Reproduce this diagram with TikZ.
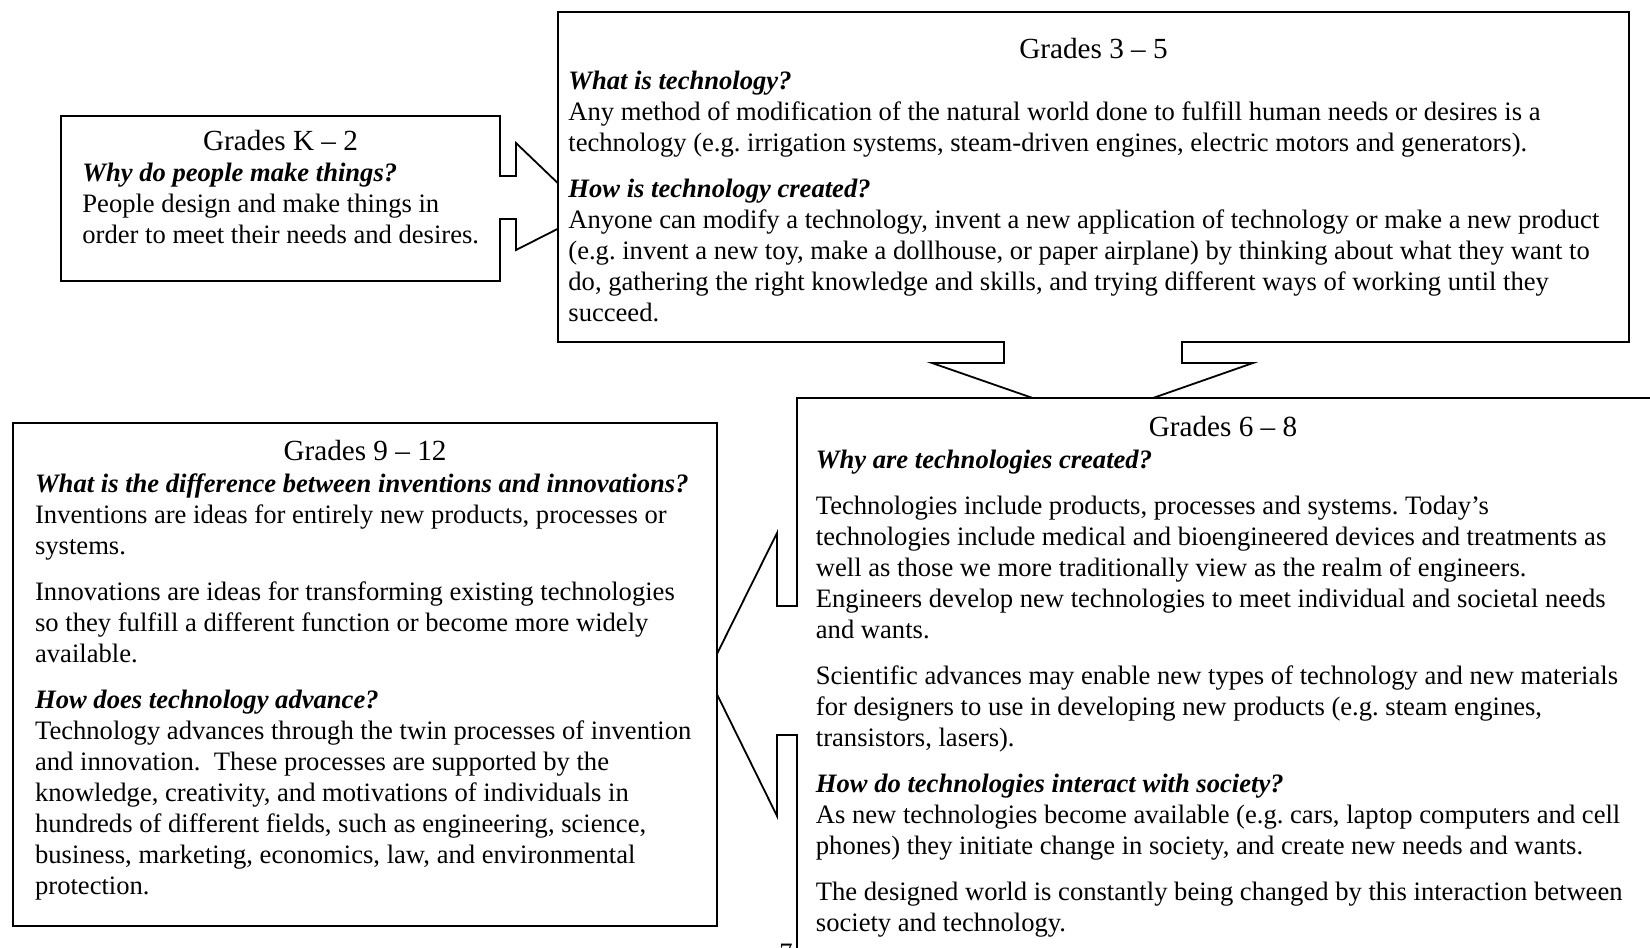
\documentclass[tikz,border=0pt]{standalone}
\usepackage{fontspec}
\setmainfont{Liberation Serif}
\usetikzlibrary{calc}

\newcommand{\qn}[1]{\textbf{\textit{#1}}}

\tikzset{
  box/.style={draw, fill=white, line width=0.9pt, inner sep=0pt, outer sep=0pt, anchor=north west},
  head/.style={font=\fontsize{14.6pt}{15.5pt}\selectfont, inner sep=0pt, anchor=north},
  body/.style={font=\fontsize{13.3pt}{15.5pt}\selectfont\frenchspacing, align=left, inner sep=0pt, anchor=north west},
  callout/.style={draw, line width=0.9pt, line join=miter},
  gap/.style={fill=white}
}

\begin{document}
\begin{tikzpicture}[x=0.5pt, y=-0.5pt]
\useasboundingbox (0,0) rectangle (1650,948);
\clip (0,0) rectangle (1650,948);

% Grades K-2, arrow to the right
\node[box, minimum width=219.5pt, minimum height=82.5pt] (gk2) at (61,116) {};
\fill[gap] ($(gk2.north east)+(-3,61)$) rectangle ($(gk2.north east)+(14,102)$);
\draw[callout] ($(gk2.north east)+(0,60)$) -- ++(16,0) -- ++(0,-33) -- ++(73,70)
  -- ++(-73,37) -- ++(0,-31) -- ++(-16,0);
\node[head] (gk2h) at (280.5,128) {\strut Grades K – 2};
\node[body] (gk2t) at (82,159) {\strut\qn{Why do people make things?}\\
  People design and make things in\\
  order to meet their needs and desires.};

% Grades 3-5, arrow down
\node[box, minimum width=535.5pt, minimum height=165pt] (g35) at (558,12) {};
\fill[gap] ($(g35.south west)+(447,-3)$) rectangle ($(g35.south west)+(623,3)$);
\draw[callout] ($(g35.south west)+(446,0)$) -- ++(0,21) -- ++(-72,0) -- ++(161,56)
  -- ++(160,-56) -- ++(-71,0) -- ++(0,-21);
\node[head] (g35h) at (1093.5,36.4) {\strut Grades 3 – 5};
\node[body] (g35t) at (568,66.9) {\strut\qn{What is technology?}\\
  Any method of modification of the natural world done to fulfill human needs or desires is a\\
  technology (e.g. irrigation systems, steam-driven engines, electric motors and generators).\\[7.5pt]
  \qn{How is technology created?}\\
  Anyone can modify a technology, invent a new application of technology or make a new product\\
  (e.g. invent a new toy, make a dollhouse, or paper airplane) by thinking about what they want to\\
  do, gathering the right knowledge and skills, and trying different ways of working until they\\
  succeed.};

% Grades 6-8, arrow to the left
\node[box, minimum width=432.5pt, minimum height=296pt] (g68) at (797,398) {};
\fill[gap] ($(g68.north west)+(-3,209)$) rectangle ($(g68.north west)+(3,336)$);
\draw[callout] ($(g68.north west)+(0,208)$) -- ++(-20,0) -- ++(0,-73) -- ++(-70,141)
  -- ++(70,142) -- ++(0,-81) -- ++(20,0);
\node[head] (g68h) at (1223,414.2) {\strut Grades 6 – 8};
\node[body] (g68t) at (815.5,446.8) {\strut\qn{Why are technologies created?}\\[7.5pt]
  Technologies include products, processes and systems. Today’s\\
  technologies include medical and bioengineered devices and treatments as\\
  well as those we more traditionally view as the realm of engineers.\\
  Engineers develop new technologies to meet individual and societal needs\\
  and wants.\\[7.5pt]
  Scientific advances may enable new types of technology and new materials\\
  for designers to use in developing new products (e.g. steam engines,\\
  transistors, lasers).\\[7.5pt]
  \qn{How do technologies interact with society?}\\
  As new technologies become available (e.g. cars, laptop computers and cell\\
  phones) they initiate change in society, and create new needs and wants.\\[7.5pt]
  The designed world is constantly being changed by this interaction between\\
  society and technology.};

% Grades 9-12
\node[box, minimum width=352pt, minimum height=251.5pt] (g912) at (13,423) {};
\node[head] (g912h) at (365,438.4) {\strut Grades 9 – 12};
\node[body] (g912t) at (34.7,470) {\strut\qn{What is the difference between inventions and innovations?}\\
  Inventions are ideas for entirely new products, processes or\\
  systems.\\[7.5pt]
  Innovations are ideas for transforming existing technologies\\
  so they fulfill a different function or become more widely\\
  available.\\[7.5pt]
  \qn{How does technology advance?}\\
  Technology advances through the twin processes of invention\\
  and innovation.\ \ These processes are supported by the\\
  knowledge, creativity, and motivations of individuals in\\
  hundreds of different fields, such as engineering, science,\\
  business, marketing, economics, law, and environmental\\
  protection.};

% page number, cut by the page edge
\node[body, anchor=north] (pgno) at (786,944) {7};
\end{tikzpicture}
\end{document}
